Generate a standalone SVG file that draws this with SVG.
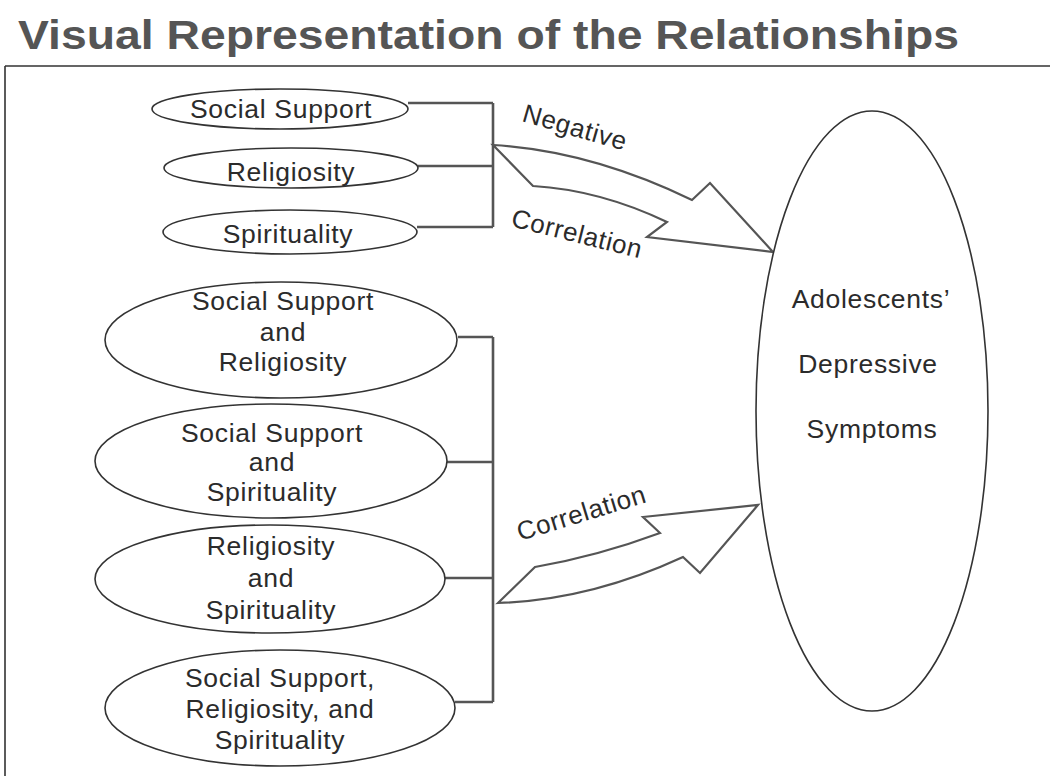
<svg xmlns="http://www.w3.org/2000/svg" width="1050" height="776" viewBox="0 0 1050 776">
<style>
  .title{font-family:"Liberation Sans",Arial,sans-serif;font-weight:bold;font-size:41px;fill:#555}
  .lbl{font-family:"Liberation Sans",Arial,sans-serif;font-size:26.5px;fill:#2b2b2b;text-anchor:middle;letter-spacing:0.7px}
  .arlbl{font-family:"Liberation Sans",Arial,sans-serif;font-size:26px;fill:#2b2b2b;letter-spacing:0.6px}
  .node{fill:#fff;stroke:#333;stroke-width:1.6}
  .conn{fill:none;stroke:#555;stroke-width:2.6}
  .arrow{fill:#fff;stroke:#555;stroke-width:2.2;stroke-linejoin:miter}
  .frame{fill:none;stroke:#333;stroke-width:1.6}
</style>
<rect x="0" y="0" width="1050" height="776" fill="#fff"/>
<text class="title" x="18" y="49" textLength="941" lengthAdjust="spacingAndGlyphs">Visual Representation of the Relationships</text>
<path class="frame" d="M5,66 H1050 M5,66 V776"/>

<g id="connectors">
  <path class="conn" d="M408,103 H493 M418,166 H493 M417,227 H493 M493,103 V227"/>
  <path class="conn" d="M458,337 H493 M447,462 H493 M445,578 H493 M455,702 H493 M493,337 V702"/>
  <path id="arrow-top" class="arrow" d="M493,145 Q591,151 692,200 L710,183 L773,252 L647,237 L667,222 Q600,190 533,186 Z"/>
  <path id="arrow-bottom" class="arrow" d="M498,603 Q590,600 683,557 L700,573 L758,505 L643,517 L660,533 Q598,556 535,567 Z"/>
  <text class="arlbl" x="521" y="121" transform="rotate(16 521 121)">Negative</text>
  <text class="arlbl" x="510" y="226" transform="rotate(14 510 226)">Correlation</text>
  <text class="arlbl" x="520" y="541" transform="rotate(-17 520 541)">Correlation</text>
</g>

<g id="n-social-support">
  <ellipse class="node" cx="280" cy="109" rx="128" ry="20"/>
  <text class="lbl" x="281" y="118">Social Support</text>
</g>
<g id="n-religiosity">
  <ellipse class="node" cx="291" cy="168" rx="127" ry="20"/>
  <text class="lbl" x="291" y="181">Religiosity</text>
</g>
<g id="n-spirituality">
  <ellipse class="node" cx="290" cy="232" rx="127" ry="22"/>
  <text class="lbl" x="288" y="243">Spirituality</text>
</g>

<g id="n-ss-rel">
  <ellipse class="node" cx="281" cy="340" rx="176" ry="58"/>
  <text class="lbl" x="283" y="310">Social Support</text>
  <text class="lbl" x="283" y="341">and</text>
  <text class="lbl" x="283" y="371">Religiosity</text>
</g>
<g id="n-ss-spi">
  <ellipse class="node" cx="271" cy="461" rx="176" ry="57"/>
  <text class="lbl" x="272" y="442">Social Support</text>
  <text class="lbl" x="272" y="471">and</text>
  <text class="lbl" x="272" y="501">Spirituality</text>
</g>
<g id="n-rel-spi">
  <ellipse class="node" cx="270" cy="579" rx="175" ry="54"/>
  <text class="lbl" x="271" y="555">Religiosity</text>
  <text class="lbl" x="271" y="587">and</text>
  <text class="lbl" x="271" y="619">Spirituality</text>
</g>
<g id="n-all">
  <ellipse class="node" cx="280" cy="708" rx="175" ry="58"/>
  <text class="lbl" x="280" y="687">Social Support,</text>
  <text class="lbl" x="280" y="718">Religiosity, and</text>
  <text class="lbl" x="280" y="749">Spirituality</text>
</g>

<g id="n-outcome">
  <ellipse class="node" cx="872" cy="411" rx="116" ry="300"/>
  <text class="lbl" x="871" y="308">Adolescents’</text>
  <text class="lbl" x="868" y="373">Depressive</text>
  <text class="lbl" x="872" y="438">Symptoms</text>
</g>
</svg>
